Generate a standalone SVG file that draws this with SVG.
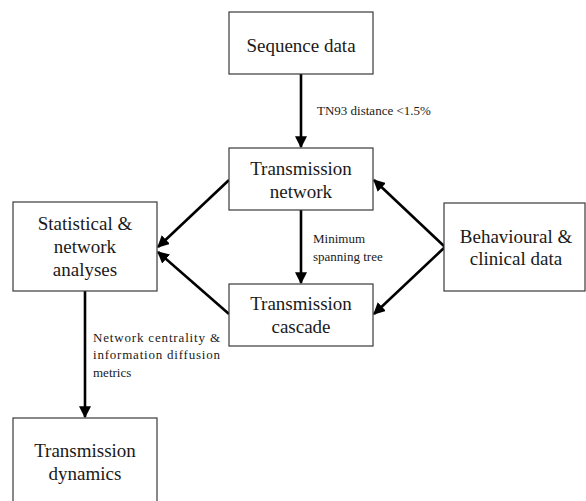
<svg xmlns="http://www.w3.org/2000/svg" width="586" height="501" viewBox="0 0 586 501">
<defs>
<style>
.box{fill:#fff;stroke:#3a3a3a;stroke-width:1.2}
.nt{font-family:"Liberation Serif","Times New Roman",serif;font-size:19px;fill:#1a1a1a;text-anchor:middle}
.lbl{font-family:"Liberation Serif","Times New Roman",serif;font-size:13px;fill:#1a1a1a}
.edge{stroke:#000;stroke-width:2.6;fill:none;marker-end:url(#ah)}
</style>
<marker id="ah" viewBox="0 0 10 10" refX="9" refY="5" markerWidth="4.6" markerHeight="4.6" markerUnits="strokeWidth" orient="auto">
<path d="M0,0 L10,5 L0,10 Z" fill="#000"/>
</marker>
</defs>
<rect width="586" height="501" fill="#fff"/>
<g id="connectors">
<line class="edge" x1="301" y1="74" x2="301" y2="147"/>
<line class="edge" x1="301" y1="210" x2="301" y2="283"/>
<line class="edge" x1="229" y1="180" x2="158" y2="247"/>
<line class="edge" x1="229" y1="314" x2="158" y2="252"/>
<line class="edge" x1="445" y1="247" x2="374" y2="180"/>
<line class="edge" x1="445" y1="247" x2="374" y2="314"/>
<line class="edge" x1="85" y1="291" x2="85" y2="417"/>
<text class="lbl" x="317" y="115">TN93 distance &lt;1.5%</text>
<text class="lbl" x="313" y="243" font-size="12">Minimum</text>
<text class="lbl" x="313" y="261" font-size="12">spanning tree</text>
<text class="lbl" x="93" y="342" textLength="127" lengthAdjust="spacing">Network centrality &amp;</text>
<text class="lbl" x="93" y="359" textLength="127" lengthAdjust="spacing">information diffusion</text>
<text class="lbl" x="93" y="377">metrics</text>
</g>
<g id="sequence-data">
<rect class="box" x="229" y="12" width="144" height="62"/>
<text class="nt" x="301" y="52">Sequence data</text>
</g>
<g id="transmission-network">
<rect class="box" x="229" y="148" width="144" height="62"/>
<text class="nt" x="301" y="175">Transmission</text>
<text class="nt" x="301" y="198">network</text>
</g>
<g id="transmission-cascade">
<rect class="box" x="229" y="284" width="144" height="62"/>
<text class="nt" x="301" y="310">Transmission</text>
<text class="nt" x="301" y="333">cascade</text>
</g>
<g id="statistical-analyses">
<rect class="box" x="13" y="202" width="144" height="89"/>
<text class="nt" x="85" y="230">Statistical &amp;</text>
<text class="nt" x="85" y="253">network</text>
<text class="nt" x="85" y="276">analyses</text>
</g>
<g id="behavioural-clinical">
<rect class="box" x="444" y="203" width="141" height="88"/>
<text class="nt" x="516" y="243">Behavioural &amp;</text>
<text class="nt" x="516" y="265">clinical data</text>
</g>
<g id="transmission-dynamics">
<rect class="box" x="13" y="418" width="144" height="90"/>
<text class="nt" x="85" y="457">Transmission</text>
<text class="nt" x="85" y="480">dynamics</text>
</g>
</svg>
